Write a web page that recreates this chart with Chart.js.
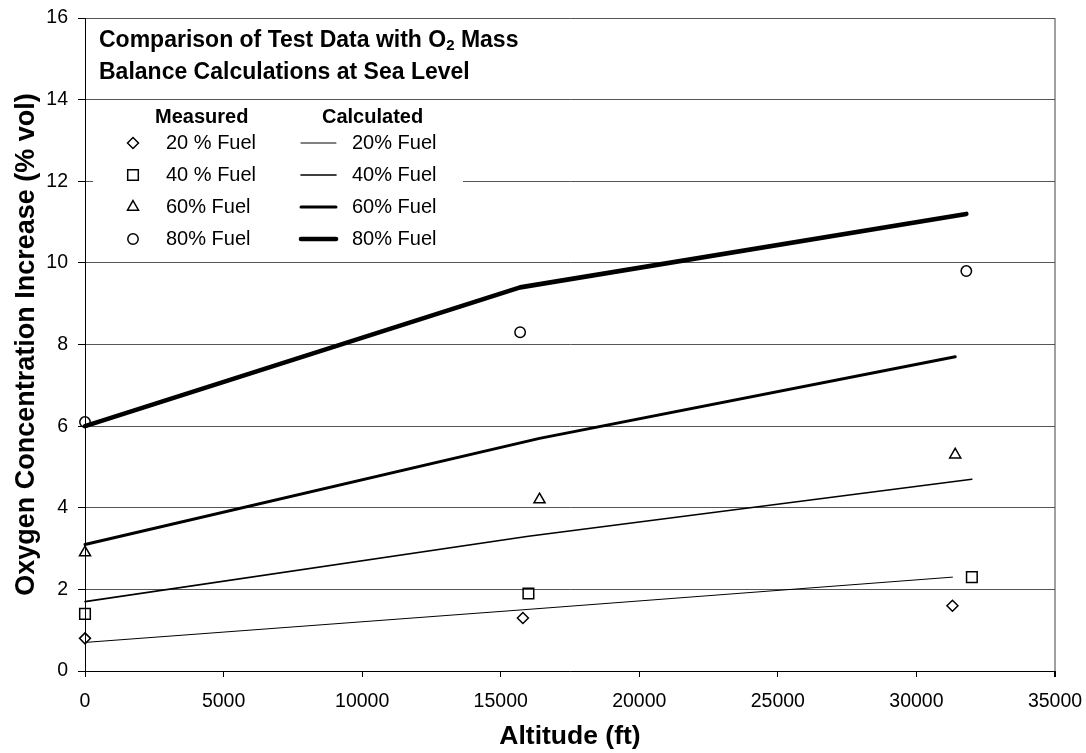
<!DOCTYPE html>
<html>
<head>
<meta charset="utf-8">
<title>O2 concentration vs altitude</title>
<script src="https://cdn.jsdelivr.net/npm/chart.js@4.4.1/dist/chart.umd.min.js"></script>
<style>
  html, body { margin: 0; padding: 0; background: #fff; }
  #wrap { width: 1086px; height: 753px; position: relative; }
</style>
</head>
<body>
<div id="wrap"><canvas id="myChart"></canvas></div>
<script>
// data
const measuredLabels = ['20 % Fuel', '40 % Fuel', '60% Fuel', '80% Fuel'];
const calculatedLabels = ['20% Fuel', '40% Fuel', '60% Fuel', '80% Fuel'];

const measuredAlt = [
  [0, 15800, 31300],
  [0, 16000, 32000],
  [0, 16400, 31400],
  [0, 15700, 31800],
];
const measuredO2 = [
  [0.8, 1.3, 1.6],
  [1.4, 1.9, 2.3],
  [2.9, 4.2, 5.3],
  [6.1, 8.3, 9.8],
];

const calculatedAlt = [
  [0, 15800, 31300],
  [0, 16000, 32000],
  [0, 16400, 31400],
  [0, 15700, 31800],
];
const calculatedO2 = [
  [0.7, 1.5, 2.3],
  [1.7, 3.3, 4.7],
  [3.1, 5.7, 7.7],
  [6.0, 9.4, 11.2],
];

// styles
const markerStyles = ['rectRot', 'rect', 'triangle', 'circle'];
const markerRadius = [5.5, 7.5, 6.4, 5.2];
const lineWidths = [1, 1.6, 3, 4.6];

const FONT = 'Arial, "Liberation Sans", sans-serif';

function toPoints(xs, ys) {
  return xs.map((x, i) => ({ x: x, y: ys[i] }));
}

const datasets = [];
for (let i = 0; i < 4; i++) {
  datasets.push({
    label: 'Measured ' + measuredLabels[i],
    data: toPoints(measuredAlt[i], measuredO2[i]),
    showLine: false,
    pointStyle: markerStyles[i],
    pointRadius: markerRadius[i],
    pointBorderWidth: 1.5,
    pointBorderColor: '#000',
    pointBackgroundColor: 'rgba(0,0,0,0)',
    clip: false,
  });
}
for (let i = 0; i < 4; i++) {
  datasets.push({
    label: 'Calculated ' + calculatedLabels[i],
    data: toPoints(calculatedAlt[i], calculatedO2[i]),
    showLine: true,
    borderColor: '#000',
    borderWidth: lineWidths[i],
    borderCapStyle: 'round',
    borderJoinStyle: 'round',
    pointRadius: 0,
    tension: 0,
    clip: false,
  });
}

function drawMarker(ctx, style, r, x, y) {
  ctx.beginPath();
  if (style === 'rectRot') {
    ctx.moveTo(x - r, y);
    ctx.lineTo(x, y - r);
    ctx.lineTo(x + r, y);
    ctx.lineTo(x, y + r);
    ctx.closePath();
  } else if (style === 'rect') {
    const s = Math.SQRT1_2 * r;
    ctx.rect(x - s, y - s, 2 * s, 2 * s);
  } else if (style === 'triangle') {
    ctx.moveTo(x, y - r);
    ctx.lineTo(x + Math.sin(2 * Math.PI / 3) * r, y + r / 2);
    ctx.lineTo(x - Math.sin(2 * Math.PI / 3) * r, y + r / 2);
    ctx.closePath();
  } else {
    ctx.arc(x, y, r, 0, Math.PI * 2);
  }
  ctx.stroke();
}

// title + two-column legend drawn inside the plot area
const boxPlugin = {
  id: 'boxPlugin',
  beforeDatasetsDraw(chart) {
    const ctx = chart.ctx;
    ctx.save();

    // white legend panel hides the 12 gridline
    ctx.fillStyle = '#fff';
    ctx.fillRect(93, 100, 370, 160);

    ctx.fillStyle = '#000';
    ctx.textAlign = 'left';
    ctx.textBaseline = 'alphabetic';

    // title
    ctx.font = 'bold 23px ' + FONT;
    const part1 = 'Comparison of Test Data with O';
    ctx.fillText(part1, 99, 46.5);
    let x = 99 + ctx.measureText(part1).width;
    ctx.font = 'bold 15px ' + FONT;
    ctx.fillText('2', x, 50);
    x += ctx.measureText('2').width;
    ctx.font = 'bold 23px ' + FONT;
    ctx.fillText(' Mass', x, 46.5);
    ctx.fillText('Balance Calculations at Sea Level', 99, 78.5);

    // legend headers
    ctx.textBaseline = 'middle';
    ctx.font = 'bold 20px ' + FONT;
    ctx.fillText('Measured', 155, 117);
    ctx.fillText('Calculated', 322, 117);

    const rows = [143, 175, 207, 239];
    ctx.font = '20px ' + FONT;
    ctx.strokeStyle = '#000';
    for (let i = 0; i < 4; i++) {
      const y = rows[i];
      ctx.lineWidth = 1.5;
      drawMarker(ctx, markerStyles[i], markerRadius[i], 133, y);
      ctx.fillText(measuredLabels[i], 166, y);

      ctx.lineWidth = lineWidths[i];
      ctx.lineCap = 'round';
      ctx.beginPath();
      ctx.moveTo(301, y);
      ctx.lineTo(336, y);
      ctx.stroke();
      ctx.fillText(calculatedLabels[i], 352, y);
    }
    ctx.restore();
  },
};

const ctx = document.getElementById('myChart').getContext('2d');

// eslint-disable-next-line
const chart = new Chart(ctx, {
  type: 'scatter',
  data: { datasets: datasets },
  plugins: [boxPlugin],
  options: {
    responsive: true,
    maintainAspectRatio: false,
    animation: false,
    layout: { padding: { top: 18, right: 31, left: 0, bottom: 0 } },
    plugins: {
      legend: { display: false },
      tooltip: { enabled: false },
    },
    scales: {
      x: {
        type: 'linear',
        min: 0,
        max: 35000,
        afterFit(scale) {
          scale.height = 82;
          scale.paddingLeft = 0;
          scale.paddingRight = 0;
        },
        ticks: {
          stepSize: 5000,
          color: '#000',
          padding: 13,
          font: { family: FONT, size: 19.5 },
          callback: (v) => String(v),
        },
        grid: {
          drawOnChartArea: true,
          color: (c) => (c.index === 7 ? '#a0a0a0' : 'rgba(0,0,0,0)'),
          lineWidth: (c) => (c.index === 7 ? 2 : 1),
          tickColor: '#000',
          tickLength: 6,
        },
        border: { color: '#000', width: 1 },
        title: {
          display: true,
          text: 'Altitude (ft)',
          color: '#000',
          font: { family: FONT, size: 26.5, weight: 'bold' },
          padding: { top: 0, bottom: 0 },
        },
      },
      y: {
        min: 0,
        max: 16,
        afterFit(scale) {
          scale.width = 85;
          scale.paddingTop = 0;
          scale.paddingBottom = 0;
        },
        ticks: {
          stepSize: 2,
          color: '#000',
          padding: 10,
          font: { family: FONT, size: 19.5 },
        },
        grid: {
          color: '#555',
          lineWidth: 1,
          tickColor: '#000',
          tickLength: 7,
        },
        border: { color: '#000', width: 1 },
        title: {
          display: true,
          text: 'Oxygen Concentration Increase (% vol)',
          color: '#000',
          font: { family: FONT, size: 27, weight: 'bold' },
          padding: { top: 10, bottom: 0 },
        },
      },
    },
  },
});
</script>
</body>
</html>
